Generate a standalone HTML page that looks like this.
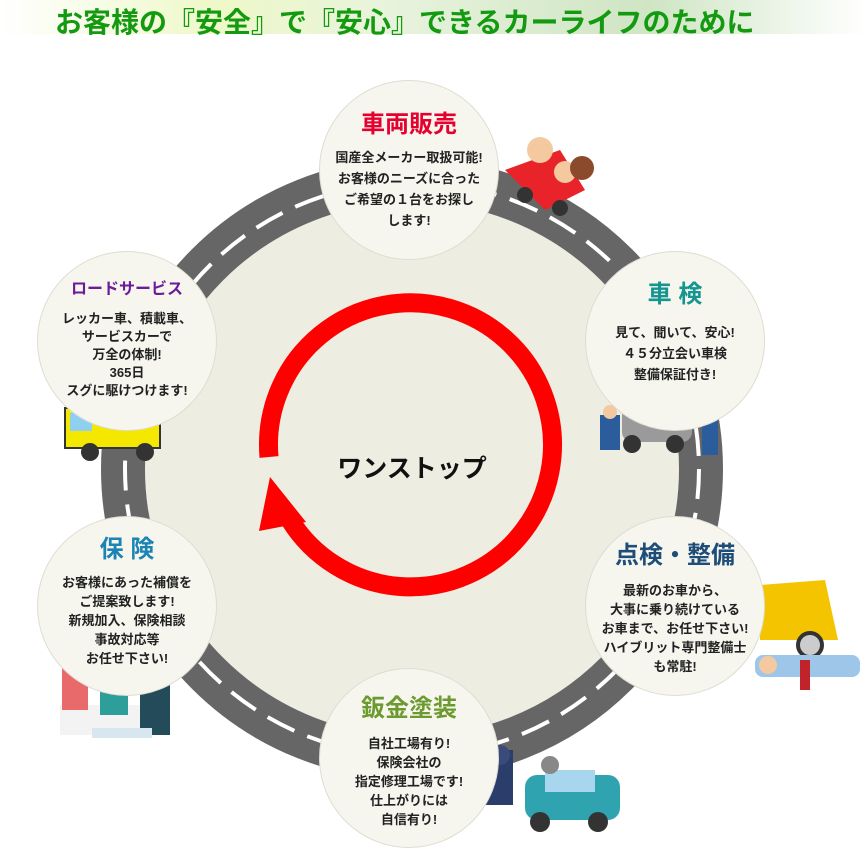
<!DOCTYPE html>
<html><head><meta charset="utf-8"><style>
body{margin:0;width:867px;height:846px;background:#fff;overflow:hidden;font-family:"Liberation Sans","Noto Sans CJK JP",sans-serif;position:relative}
.title{position:absolute;left:0;top:0;width:867px;height:34px;background:linear-gradient(90deg,rgba(230,245,190,0) 0%,#eef8c8 25%,#e8f3dd 45%,#cfe5c4 75%,rgba(255,255,255,0) 100%)}
.title span{position:absolute;left:55px;top:1px;font-size:28px;font-weight:bold;color:#139a10;letter-spacing:0px;white-space:nowrap}
.c{position:absolute;width:180px;height:180px;border-radius:50%;background:#f6f6ef;border:1px solid #ddddd2;text-align:center;box-sizing:border-box}
.c h3{margin:0;font-size:24px;font-weight:bold;line-height:30px}
.c p{margin:6px 0 0;font-size:13px;font-weight:bold;line-height:19px;color:#222}
</style></head><body>
<div class="title"><span>お客様の『安全』で『安心』できるカーライフのために</span></div>
<svg width="867" height="846" style="position:absolute;left:0;top:0">
<circle cx="412" cy="469" r="267" fill="#eeede1"/>
<circle cx="412" cy="469" r="289" fill="none" stroke="#666" stroke-width="44"/>
<circle cx="412" cy="469" r="287" fill="none" stroke="#fff" stroke-width="4" stroke-dasharray="30 14"/>
<path d="M269 457 A142 142 0 1 1 290 520" fill="none" stroke="#ff0000" stroke-width="19"/>
<polygon points="259,531 270,477 306,522" fill="#ff0000"/>
<text x="412" y="477" text-anchor="middle" font-size="25" font-weight="bold" fill="#111" font-family="Liberation Sans, Noto Sans CJK JP, sans-serif">ワンストップ</text>
<g><path d="M505 170 L560 150 L585 190 L545 210 Z" fill="#e8232a"/><circle cx="525" cy="195" r="8" fill="#333"/><circle cx="560" cy="208" r="8" fill="#333"/><circle cx="540" cy="150" r="13" fill="#f5c9a0"/><circle cx="565" cy="172" r="11" fill="#f5c9a0"/><circle cx="582" cy="168" r="12" fill="#8b4a2b"/></g>
<g><rect x="622" y="402" width="70" height="40" rx="10" fill="#9a9a9a"/><rect x="632" y="405" width="40" height="15" fill="#a7d0ee"/><circle cx="632" cy="444" r="9" fill="#333"/><circle cx="675" cy="444" r="9" fill="#333"/><rect x="600" y="415" width="20" height="35" fill="#2b5d9c"/><rect x="702" y="405" width="16" height="50" fill="#2b5d9c"/><circle cx="610" cy="412" r="7" fill="#f5c9a0"/><circle cx="712" cy="402" r="7" fill="#f5c9a0"/></g>
<g><path d="M760 585 L825 580 L838 640 L760 640 Z" fill="#f5c400"/><circle cx="810" cy="645" r="12" fill="#ccc" stroke="#333" stroke-width="4"/><rect x="755" y="655" width="105" height="22" rx="8" fill="#9ec6e8"/><rect x="800" y="660" width="10" height="30" fill="#c0232a"/><circle cx="768" cy="665" r="9" fill="#f5c9a0"/></g>
<g><rect x="525" y="775" width="95" height="45" rx="12" fill="#2fa4b0"/><rect x="545" y="770" width="50" height="22" fill="#a7d6ee"/><circle cx="540" cy="822" r="10" fill="#333"/><circle cx="598" cy="822" r="10" fill="#333"/><rect x="485" y="750" width="28" height="55" fill="#2b3d6a"/><circle cx="500" cy="755" r="10" fill="#3a4a7a"/><circle cx="550" cy="765" r="9" fill="#888"/></g>
<g><rect x="60" y="705" width="110" height="30" fill="#f3f3f3"/><rect x="62" y="665" width="26" height="45" fill="#e96a6a"/><circle cx="75" cy="660" r="10" fill="#f5c9a0"/><rect x="100" y="670" width="28" height="45" fill="#2e9e9a"/><circle cx="114" cy="662" r="11" fill="#f5c9a0"/><rect x="140" y="675" width="30" height="60" fill="#234b5a"/><circle cx="155" cy="665" r="11" fill="#f5c9a0"/><rect x="92" y="728" width="60" height="10" fill="#d8e6ef"/></g>
<g><rect x="65" y="408" width="95" height="40" fill="#f5e800" stroke="#333" stroke-width="2"/><rect x="112" y="400" width="25" height="25" fill="#e8232a"/><path d="M137 420 L155 403 L162 420 Z" fill="#e8232a"/><rect x="70" y="413" width="22" height="18" fill="#8fd0f0"/><circle cx="90" cy="452" r="9" fill="#333"/><circle cx="145" cy="452" r="9" fill="#333"/></g>
</svg>
<div class="c" style="left:319px;top:80px"><h3 style="color:#e6002d;margin-top:29px">車両販売</h3><p style="margin-top:7px;line-height:21px">国産全メーカー取扱可能!<br>お客様のニーズに合った<br>ご希望の１台をお探し<br>します!</p></div>
<div class="c" style="left:585px;top:251px"><h3 style="color:#15958f;margin-top:28px">車 検</h3><p style="margin-top:12px;line-height:21px">見て、聞いて、安心!<br>４５分立会い車検<br>整備保証付き!</p></div>
<div class="c" style="left:585px;top:516px"><h3 style="color:#1d4d78;margin-top:24px">点検・整備</h3><p style="margin-top:10px">最新のお車から、<br>大事に乗り続けている<br>お車まで、お任せ下さい!<br>ハイブリット専門整備士<br>も常駐!</p></div>
<div class="c" style="left:319px;top:668px"><h3 style="color:#6c9a2e;margin-top:25px">鈑金塗装</h3><p style="margin-top:10px">自社工場有り!<br>保険会社の<br>指定修理工場です!<br>仕上がりには<br>自信有り!</p></div>
<div class="c" style="left:37px;top:516px"><h3 style="color:#1b84b4;margin-top:18px">保 険</h3><p style="margin-top:8px">お客様にあった補償を<br>ご提案致します!<br>新規加入、保険相談<br>事故対応等<br>お任せ下さい!</p></div>
<div class="c" style="left:37px;top:251px"><h3 style="color:#6a1b9a;font-size:16px;margin-top:23px">ロードサービス</h3><p style="margin-top:5px;line-height:18px">レッカー車、積載車、<br>サービスカーで<br>万全の体制!<br>365日<br>スグに駆けつけます!</p></div>
</body></html>
